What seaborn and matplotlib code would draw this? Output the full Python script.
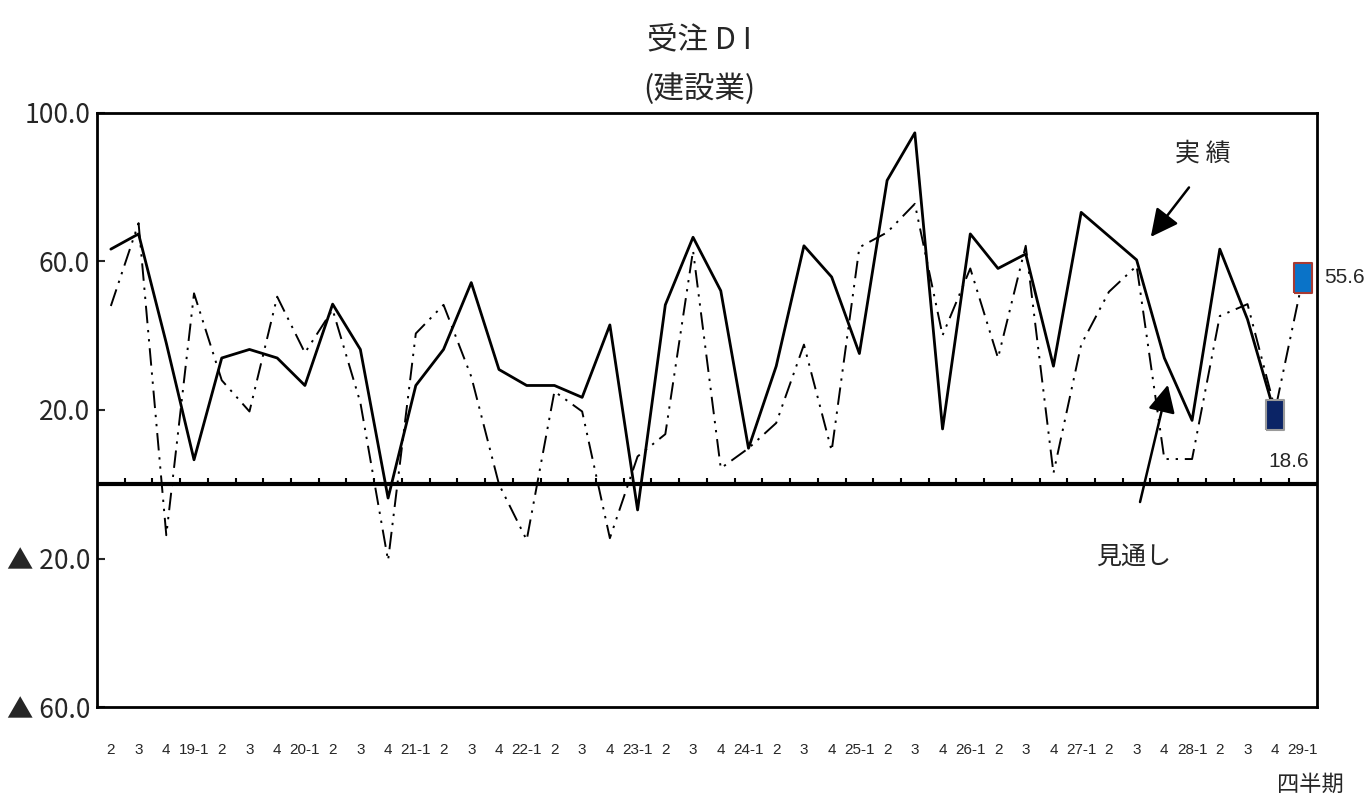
import numpy as np
import pandas as pd
import seaborn as sns
import matplotlib as mpl
mpl.use('Agg')
import matplotlib.pyplot as plt

# quarter labels (H18-2 .. H29-1)
quarters = ['2', '3', '4', '19-1', '2', '3', '4', '20-1', '2', '3', '4', '21-1',
            '2', '3', '4', '22-1', '2', '3', '4', '23-1', '2', '3', '4', '24-1',
            '2', '3', '4', '25-1', '2', '3', '4', '26-1', '2', '3', '4', '27-1',
            '2', '3', '4', '28-1', '2', '3', '4', '29-1']
# 実績 (actual)
actual = [63.3, 67.4, 38.0, 6.6, 34.0, 36.3, 34.0, 26.6, 48.5, 36.3, -3.7,
          26.6, 36.3, 54.3, 30.9, 26.6, 26.6, 23.4, 42.9, -6.9, 48.3, 66.5,
          52.1, 9.7, 31.8, 64.2, 55.8, 35.2, 81.8, 94.6, 14.9, 67.4, 58.1,
          62.0, 31.8, 73.2, 66.8, 60.4, 34.0, 17.2, 63.3, 44.4, 18.6]
# 見通し (forecast)
forecast = [48.0, 70.3, -13.7, 51.4, 28.0, 19.6, 50.5, 35.4, 47.0, 22.0, -20.5,
            40.6, 48.3, 29.0, 0.0, -15.0, 25.0, 19.6, -14.5, 7.5, 13.5, 62.9,
            4.3, 9.7, 16.5, 37.6, 9.0, 63.8, 67.8, 75.5, 40.1, 58.1, 34.0,
            64.2, 3.0, 37.6, 51.8, 58.8, 6.8, 6.8, 45.3, 48.5, 20.0, 55.6]
ytick_vals = [100, 60, 20, -20, -60]
ytick_labels = ['100.0', '60.0', '20.0', '▲ 20.0', '▲ 60.0']

num_font = ['Liberation Sans', 'DejaVu Sans']
jp_font = ['Noto Sans CJK JP', 'DejaVu Sans']

sns.set_style('white')
plt.rcParams['font.family'] = jp_font

df_a = pd.DataFrame({'q': np.arange(len(actual)), 'v': actual})
df_f = pd.DataFrame({'q': np.arange(len(forecast)), 'v': forecast})
n = len(quarters)

fig = plt.figure(figsize=(13.66, 8), dpi=100)
ax = fig.add_axes([0.071, 0.116, 0.893, 0.743])

sns.lineplot(data=df_f, x='q', y='v', ax=ax, color='k', lw=1.4,
             linestyle=(0, (9, 3.5, 1.2, 3.5, 1.2, 3.5)))
sns.lineplot(data=df_a, x='q', y='v', ax=ax, color='k', lw=2)

rect = [(-0.6, -1), (0.6, -1), (0.6, 1), (-0.6, 1), (-0.6, -1)]
ax.plot(df_a['q'].iloc[-1], df_a['v'].iloc[-1], marker=rect, ms=21,
        mfc='#0b2466', mec='#9a9a9a', mew=1.5, ls='none')
ax.plot(df_f['q'].iloc[-1], df_f['v'].iloc[-1], marker=rect, ms=21,
        mfc='#0a73c8', mec='#a83a32', mew=1.5, ls='none')

ax.axhline(0, color='k', lw=3, zorder=1)
bounds = np.arange(n + 1) - 0.5
ax.vlines(bounds[1:-1], 0, 1.6, color='k', lw=1.5)

ax.set_xlim(-0.5, n - 0.5)
ax.set_ylim(-60, 100)
ax.set_xticks(np.arange(n))
ax.set_xticklabels(quarters, family=num_font, fontsize=11)
ax.tick_params(axis='x', length=0, pad=26)
ax.set_yticks(ytick_vals)
ax.set_yticklabels(ytick_labels, family=jp_font, fontsize=19)
ax.tick_params(axis='y', direction='in', length=6, width=1.5, left=True, pad=5)
ax.set_xlabel('')
ax.set_ylabel('')
for s in ax.spines.values():
    s.set_linewidth(2)
    s.set_color('k')

ax.text(n - 0.25, forecast[-1], '55.6', family=num_font, fontsize=15,
        ha='left', va='center')
ax.text(len(actual) - 0.5, 6.2, '18.6', family=num_font, fontsize=15,
        ha='center', va='center')

ax.annotate('', xy=(37.45, 66.0), xytext=(38.95, 80.5),
            arrowprops=dict(arrowstyle='-|>', mutation_scale=42, lw=1.8, color='k'))
ax.text(39.4, 89, '実 績', fontsize=18, ha='center', va='center')
ax.annotate('', xy=(38.15, 27.5), xytext=(37.1, -5.5),
            arrowprops=dict(arrowstyle='-|>', mutation_scale=42, lw=1.8, color='k'))
ax.text(36.9, -19.5, '見通し', fontsize=18, ha='center', va='center')

fig.text(0.512, 0.950, '受注 D I', fontsize=22, ha='center', va='center')
fig.text(0.512, 0.888, '(建設業)', fontsize=22, ha='center', va='center')
fig.text(0.959, 0.020, '四半期', fontsize=16, ha='center', va='center')

plt.savefig('out.png', dpi=100)
